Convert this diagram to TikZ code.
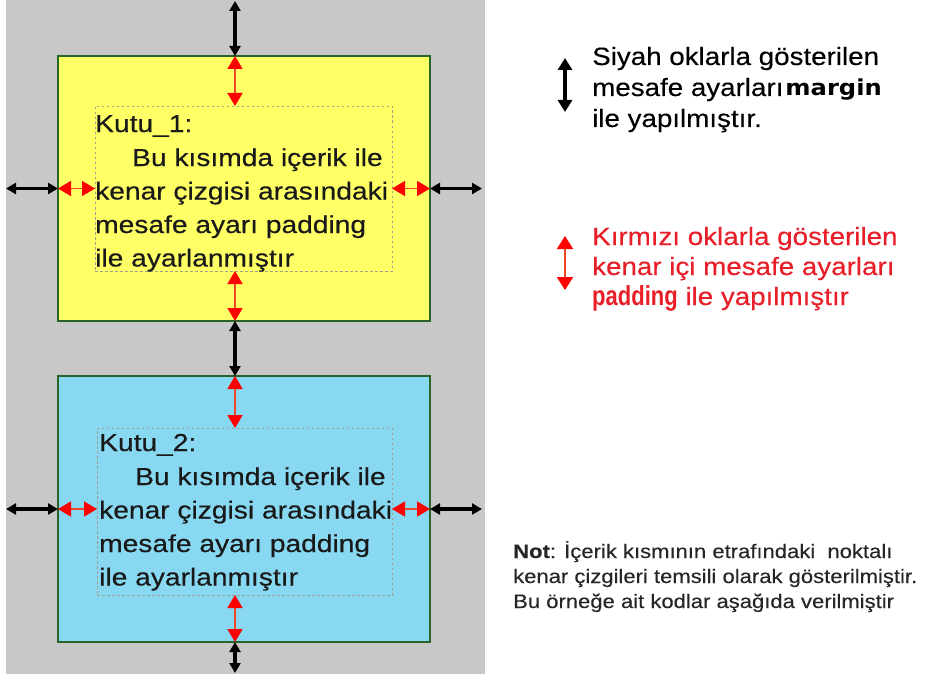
\documentclass[tikz,border=0pt]{standalone}
\usepackage{fontspec}
\setmainfont{Liberation Sans}
\newfontfamily\boxfont[FakeStretch=1.15,FakeBold=0.35]{Liberation Sans}
\newfontfamily\sidefont[FakeStretch=1.11,FakeBold=0.25]{Liberation Sans}
\newfontfamily\notefont[FakeStretch=1.13,FakeBold=0.2]{Liberation Sans}
\newfontfamily\marginfont[FakeStretch=1.1]{DejaVu Sans}
\newfontfamily\padfont[FakeStretch=0.8]{Liberation Sans}
\usetikzlibrary{arrows.meta}
\definecolor{bggray}{RGB}{200,200,200}
\definecolor{kyellow}{RGB}{255,255,102}
\definecolor{kblue}{RGB}{135,216,240}
\definecolor{kborder}{RGB}{40,100,40}
\definecolor{kred}{RGB}{232,30,40}
\definecolor{padline}{RGB}{240,70,40}
\definecolor{dotgray}{RGB}{160,160,140}
\tikzset{
  outerbox/.style={draw=kborder, line width=1.3pt, inner sep=0pt, outer sep=0pt},
  innerbox/.style={draw=dotgray, dash pattern=on 2.5pt off 2.5pt, line width=0.7pt, inner sep=0pt, outer sep=0pt},
  marginarrow/.style={line width=3.2pt, black, {Triangle[length=10pt,width=11pt]}-{Triangle[length=10pt,width=11pt]}},
  padarrow/.style={line width=1.8pt, draw=padline, {Triangle[length=13pt,width=15pt,color=red]}-{Triangle[length=13pt,width=15pt,color=red]}},
  legendblack/.style={line width=3.4pt, black, {Triangle[length=12pt,width=14pt]}-{Triangle[length=12pt,width=14pt]}},
  legendred/.style={line width=1.8pt, draw=padline, {Triangle[length=13pt,width=16pt,color=red]}-{Triangle[length=13pt,width=16pt,color=red]}},
  boxline/.style={anchor=base west, inner sep=0pt, font=\boxfont\fontsize{24.5}{30}\selectfont, text=black!90},
  sideline/.style={anchor=base west, inner sep=0pt, font=\sidefont\fontsize{25}{30}\selectfont},
  noteline/.style={anchor=base west, inner sep=0pt, font=\notefont\fontsize{19.5}{24}\selectfont, text=black!85},
}
\begin{document}
\begin{tikzpicture}[x=1pt,y=-1pt]
\useasboundingbox (0,0) rectangle (926,674);
\fill[white] (0,0) rectangle (926,674);
\fill[bggray] (6,0) rectangle (485,674);

% boxes
\node[outerbox, fill=kyellow, minimum width=372pt, minimum height=265pt, anchor=north west] (box1) at (58,56) {};
\node[innerbox, minimum width=297pt, minimum height=165pt, anchor=north west] (in1) at (95,106) {};
\node[outerbox, fill=kblue, minimum width=372pt, minimum height=266pt, anchor=north west] (box2) at (58,376) {};
\node[innerbox, minimum width=295pt, minimum height=167pt, anchor=north west] (in2) at (97,428) {};

% box texts
\node[boxline] (b1l1) at (95,132) {Kutu\_1:};
\node[boxline] (b1l2) at (132,166) {Bu kısımda içerik ile};
\node[boxline] (b1l3) at (95,199.5) {kenar çizgisi arasındaki};
\node[boxline] (b1l4) at (95,233) {mesafe ayarı padding};
\node[boxline] (b1l5) at (95,266.5) {ile ayarlanmıştır};

\node[boxline] (b2l1) at (99,451) {Kutu\_2:};
\node[boxline] (b2l2) at (135,485) {Bu kısımda içerik ile};
\node[boxline] (b2l3) at (99,518.5) {kenar çizgisi arasındaki};
\node[boxline] (b2l4) at (99,552) {mesafe ayarı padding};
\node[boxline] (b2l5) at (99,585.5) {ile ayarlanmıştır};

% vertical arrows
\coordinate (ax) at (235,1);
\coordinate (abot) at (235,673);
\draw[marginarrow] (ax) -- (ax |- box1.north);
\draw[padarrow] (ax |- box1.north) -- (ax |- in1.north);
\draw[padarrow] (ax |- in1.south) -- (ax |- box1.south);
\draw[marginarrow] (ax |- box1.south) -- (ax |- box2.north);
\draw[padarrow] (ax |- box2.north) -- (ax |- in2.north);
\draw[padarrow] (ax |- in2.south) -- (ax |- box2.south);
\draw[marginarrow] (ax |- box2.south) -- (abot);

% horizontal arrows
\coordinate (lm1) at (6,188.5);
\coordinate (rm1) at (482,188.5);
\draw[marginarrow] (lm1) -- (box1.west);
\draw[padarrow] (box1.west) -- (in1.west |- box1.west);
\draw[padarrow] (in1.east |- box1.west) -- (box1.east);
\draw[marginarrow] (box1.east) -- (rm1);

\coordinate (lm2) at (6,509);
\coordinate (rm2) at (482,509);
\draw[marginarrow] (lm2) -- (box2.west);
\draw[padarrow] (box2.west) -- (in2.west |- box2.west);
\draw[padarrow] (in2.east |- box2.west) -- (box2.east);
\draw[marginarrow] (box2.east) -- (rm2);

% legend black
\coordinate (lg1a) at (565,58);
\coordinate (lg1b) at (565,112);
\draw[legendblack] (lg1a) -- (lg1b);
\node[sideline] (s1) at (592,65) {Siyah oklarla gösterilen};
\node[sideline] (s2) at (592,96) {mesafe ayarları\hspace{2pt}{\marginfont\bfseries\fontsize{22}{30}\selectfont margin}};
\node[sideline] (s3) at (592,127) {ile yapılmıştır.};

% legend red
\coordinate (lg2a) at (565,236);
\coordinate (lg2b) at (565,290);
\draw[legendred] (lg2a) -- (lg2b);
\node[sideline, text=kred] (r1) at (592,245) {Kırmızı oklarla gösterilen};
\node[sideline, text=kred] (r2) at (592,275) {kenar içi mesafe ayarları};
\node[sideline, text=kred] (r3) at (592,305) {{\padfont\bfseries\fontsize{27.5}{30}\selectfont padding} ile yapılmıştır};

% note
\node[noteline] (n1) at (513,558) {\textbf{Not}: İçerik kısmının etrafındaki\ \ noktalı};
\node[noteline] (n2) at (513,583) {kenar çizgileri temsili olarak gösterilmiştir.};
\node[noteline] (n3) at (513,608) {Bu örneğe ait kodlar aşağıda verilmiştir};
\end{tikzpicture}
\end{document}
